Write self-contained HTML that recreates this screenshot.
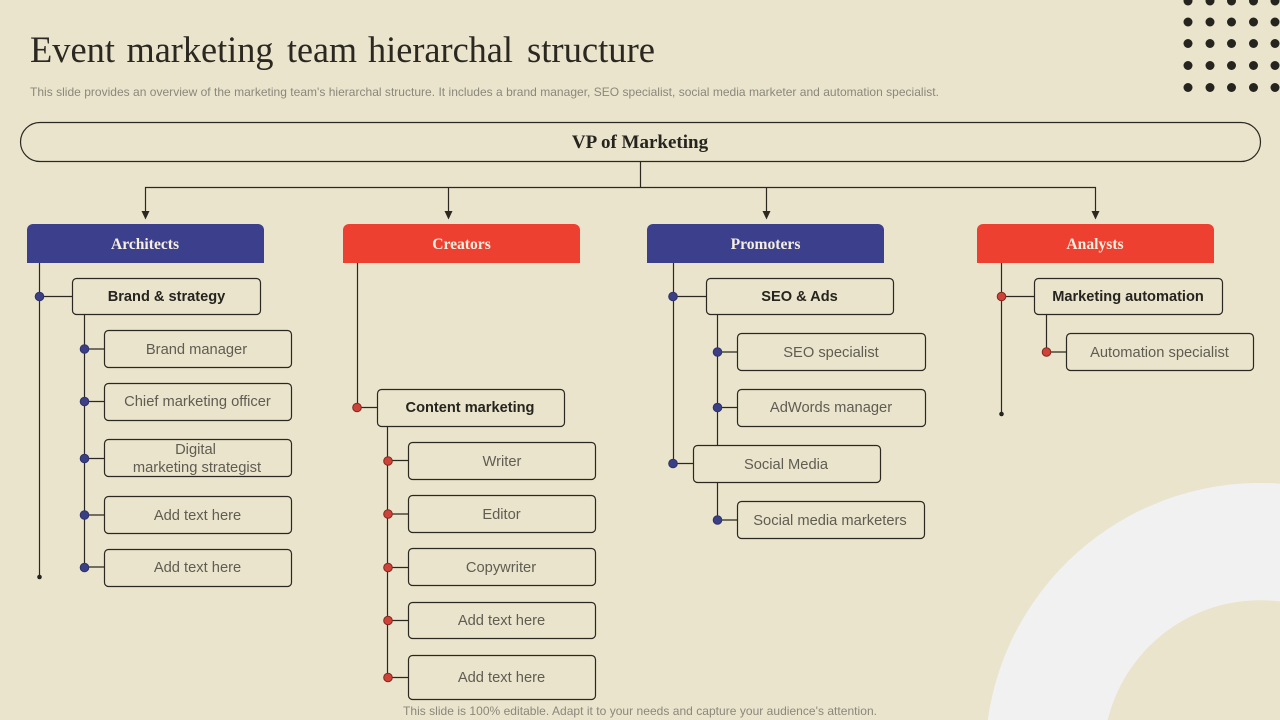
<!DOCTYPE html>
<html><head><meta charset="utf-8"><style>
html,body{margin:0;padding:0;background:#EAE4CC;width:1280px;height:720px;overflow:hidden}
svg{display:block}
text{font-family:"Liberation Sans",sans-serif}
.b{fill:#EAE4CC;stroke:#2A2820;stroke-width:1.2}
.l{stroke:#2A2820;stroke-width:1.2;fill:none}
.t{font-size:14.7px;fill:#5F5C52;text-anchor:middle}
.h{font-size:14.6px;font-weight:bold;fill:#26241E;text-anchor:middle}
.c{font-size:15.6px;font-weight:bold;fill:#F6EFE0;text-anchor:middle;font-family:"Liberation Serif",serif}
.bd{fill:#3B3F85;stroke:#2F3268;stroke-width:1}
.rd{fill:#CF4238;stroke:#7E2A22;stroke-width:1}
</style></head><body>
<svg width="1280" height="720" viewBox="0 0 1280 720" xmlns="http://www.w3.org/2000/svg">
<rect width="1280" height="720" fill="#EAE4CC"/>
<path d="M987.700 720A275 275 0 0 1 1280 483.700V601.500A157 157 0 0 0 1107.700 720Z" fill="#F1F1F1"/>
<g fill="#26241E">
<circle cx="1188" cy="1" r="4.5"/><circle cx="1210" cy="1" r="4.5"/><circle cx="1231.500" cy="1" r="4.5"/><circle cx="1253.500" cy="1" r="4.5"/><circle cx="1275" cy="1" r="4.5"/>
<circle cx="1188" cy="22" r="4.5"/><circle cx="1210" cy="22" r="4.5"/><circle cx="1231.500" cy="22" r="4.5"/><circle cx="1253.500" cy="22" r="4.5"/><circle cx="1275" cy="22" r="4.5"/>
<circle cx="1188" cy="43.500" r="4.5"/><circle cx="1210" cy="43.500" r="4.5"/><circle cx="1231.500" cy="43.500" r="4.5"/><circle cx="1253.500" cy="43.500" r="4.5"/><circle cx="1275" cy="43.500" r="4.5"/>
<circle cx="1188" cy="65.500" r="4.5"/><circle cx="1210" cy="65.500" r="4.5"/><circle cx="1231.500" cy="65.500" r="4.5"/><circle cx="1253.500" cy="65.500" r="4.5"/><circle cx="1275" cy="65.500" r="4.5"/>
<circle cx="1188" cy="87.500" r="4.5"/><circle cx="1210" cy="87.500" r="4.5"/><circle cx="1231.500" cy="87.500" r="4.5"/><circle cx="1253.500" cy="87.500" r="4.5"/><circle cx="1275" cy="87.500" r="4.5"/>
</g>
<g font-size="36.500" fill="#2A2820" style="font-family:'Liberation Serif',serif">
<text x="30" y="62" font-size="36.500" style="font-family:'Liberation Serif',serif" textLength="85" lengthAdjust="spacingAndGlyphs">Event</text>
<text x="126.500" y="62" font-size="36.500" style="font-family:'Liberation Serif',serif" textLength="147" lengthAdjust="spacingAndGlyphs">marketing</text>
<text x="287" y="62" font-size="36.500" style="font-family:'Liberation Serif',serif" textLength="70" lengthAdjust="spacingAndGlyphs">team</text>
<text x="368" y="62" font-size="36.500" style="font-family:'Liberation Serif',serif" textLength="145" lengthAdjust="spacingAndGlyphs">hierarchal</text>
<text x="527" y="62" font-size="36.500" style="font-family:'Liberation Serif',serif" textLength="128" lengthAdjust="spacingAndGlyphs">structure</text>
</g>
<text x="30" y="96" font-size="12" fill="#8A877B" textLength="909" lengthAdjust="spacing">This slide provides an overview of the marketing team's hierarchal structure. It includes a brand manager, SEO specialist, social media marketer and automation specialist.</text>
<rect x="20.500" y="122.500" width="1240" height="39" rx="19.500" fill="none" stroke="#2A2820" stroke-width="1.2"/>
<text x="640" y="148" font-size="19" font-weight="bold" fill="#26241E" text-anchor="middle" style="font-family:'Liberation Serif',serif">VP of Marketing</text>

<path class="l" d="M640.500 162V187.500M145.500 214V187.500H1095.500V214M448.500 187.500V214M766.500 187.500V214"/>
<g fill="#2A2820">
<path d="M141.500 211h8l-4 8.500z"/><path d="M444.500 211h8l-4 8.500z"/><path d="M762.500 211h8l-4 8.500z"/><path d="M1091.500 211h8l-4 8.500z"/>
</g>

<path d="M27 263V230a6 6 0 0 1 6-6H258a6 6 0 0 1 6 6V263z" fill="#3B3F8C"/>
<path d="M343 263V230a6 6 0 0 1 6-6H574a6 6 0 0 1 6 6V263z" fill="#EE4030"/>
<path d="M647 263V230a6 6 0 0 1 6-6H878a6 6 0 0 1 6 6V263z" fill="#3B3F8C"/>
<path d="M977 263V230a6 6 0 0 1 6-6H1208a6 6 0 0 1 6 6V263z" fill="#EE4030"/>
<text class="c" x="145" y="249">Architects</text>
<text class="c" x="461.500" y="249">Creators</text>
<text class="c" x="765.500" y="249">Promoters</text>
<text class="c" x="1095" y="249">Analysts</text>

<!-- Architects -->
<path class="l" d="M39.500 263V577M39.500 296.500H72M84.500 314V567M84.500 349H104M84.500 401.500H104M84.500 458.500H104M84.500 515H104M84.500 567H104"/>
<circle cx="39.500" cy="577" r="2.300" fill="#26241E"/>
<circle class="bd" cx="39.500" cy="296.500" r="4.300"/>
<circle class="bd" cx="84.500" cy="349" r="4.300"/><circle class="bd" cx="84.500" cy="401.500" r="4.300"/><circle class="bd" cx="84.500" cy="458.500" r="4.300"/><circle class="bd" cx="84.500" cy="515" r="4.300"/><circle class="bd" cx="84.500" cy="567.500" r="4.300"/>
<rect class="b" x="72.500" y="278.500" width="188" height="36" rx="4"/>
<rect class="b" x="104.500" y="330.500" width="187" height="37" rx="4"/>
<rect class="b" x="104.500" y="383.500" width="187" height="37" rx="4"/>
<rect class="b" x="104.500" y="439.500" width="187" height="37" rx="4"/>
<rect class="b" x="104.500" y="496.500" width="187" height="37" rx="4"/>
<rect class="b" x="104.500" y="549.500" width="187" height="37" rx="4"/>
<text class="h" x="166.500" y="301">Brand &amp; strategy</text>
<text class="t" x="196.500" y="354">Brand manager</text>
<text class="t" x="197.500" y="406">Chief marketing officer</text>
<text class="t" x="195.500" y="454">Digital</text>
<text class="t" x="197" y="472">marketing strategist</text>
<text class="t" x="197.500" y="520">Add text here</text>
<text class="t" x="197.500" y="572">Add text here</text>

<!-- Creators -->
<path class="l" d="M357.500 263V407.500H377M387.500 427V677.500M387.500 460.500H408M387.500 514H408M387.500 567.500H408M387.500 620.500H408M387.500 677.500H408"/>
<circle class="rd" cx="357" cy="407.500" r="4.300"/>
<circle class="rd" cx="388" cy="461" r="4.300"/><circle class="rd" cx="388" cy="514" r="4.300"/><circle class="rd" cx="388" cy="567.500" r="4.300"/><circle class="rd" cx="388" cy="620.500" r="4.300"/><circle class="rd" cx="388" cy="677.500" r="4.300"/>
<rect class="b" x="377.500" y="389.500" width="187" height="37" rx="4"/>
<rect class="b" x="408.500" y="442.500" width="187" height="37" rx="4"/>
<rect class="b" x="408.500" y="495.500" width="187" height="37" rx="4"/>
<rect class="b" x="408.500" y="548.500" width="187" height="37" rx="4"/>
<rect class="b" x="408.500" y="602.500" width="187" height="36" rx="4"/>
<rect class="b" x="408.500" y="655.500" width="187" height="44" rx="4"/>
<text class="h" x="470" y="412">Content marketing</text>
<text class="t" x="502" y="466">Writer</text>
<text class="t" x="501.500" y="519">Editor</text>
<text class="t" x="501" y="572">Copywriter</text>
<text class="t" x="501.500" y="625">Add text here</text>
<text class="t" x="501.500" y="682">Add text here</text>

<!-- Promoters -->
<path class="l" d="M673.500 263V464M673.500 296.500H706M717.500 314V445M717.500 352H737M717.500 407.500H737M673.500 463.500H693M717.500 482V520H737"/>
<circle class="bd" cx="673" cy="296.500" r="4.300"/>
<circle class="bd" cx="717.500" cy="352" r="4.300"/><circle class="bd" cx="717.500" cy="407.500" r="4.300"/>
<circle class="bd" cx="673" cy="463.500" r="4.300"/><circle class="bd" cx="717.500" cy="520" r="4.300"/>
<rect class="b" x="706.500" y="278.500" width="187" height="36" rx="4"/>
<rect class="b" x="737.500" y="333.500" width="188" height="37" rx="4"/>
<rect class="b" x="737.500" y="389.500" width="188" height="37" rx="4"/>
<rect class="b" x="693.500" y="445.500" width="187" height="37" rx="4"/>
<rect class="b" x="737.500" y="501.500" width="187" height="37" rx="4"/>
<text class="h" x="799.500" y="301">SEO &amp; Ads</text>
<text class="t" x="831" y="357">SEO specialist</text>
<text class="t" x="831" y="412">AdWords manager</text>
<text class="t" x="786" y="469">Social Media</text>
<text class="t" x="830" y="525">Social media marketers</text>

<!-- Analysts -->
<path class="l" d="M1001.500 263V414M1001.500 296.500H1034M1046.500 314V352H1066"/>
<circle cx="1001.500" cy="414" r="2.300" fill="#26241E"/>
<circle class="rd" cx="1001.500" cy="296.500" r="4.300"/><circle class="rd" cx="1046.500" cy="352" r="4.300"/>
<rect class="b" x="1034.500" y="278.500" width="188" height="36" rx="4"/>
<rect class="b" x="1066.500" y="333.500" width="187" height="37" rx="4"/>
<text class="h" x="1128" y="301">Marketing automation</text>
<text class="t" x="1159.500" y="357">Automation specialist</text>

<text x="640" y="715" font-size="12" fill="#8A877B" text-anchor="middle" textLength="474" lengthAdjust="spacing">This slide is 100% editable. Adapt it to your needs and capture your audience's attention.</text>
</svg>
</body></html>
